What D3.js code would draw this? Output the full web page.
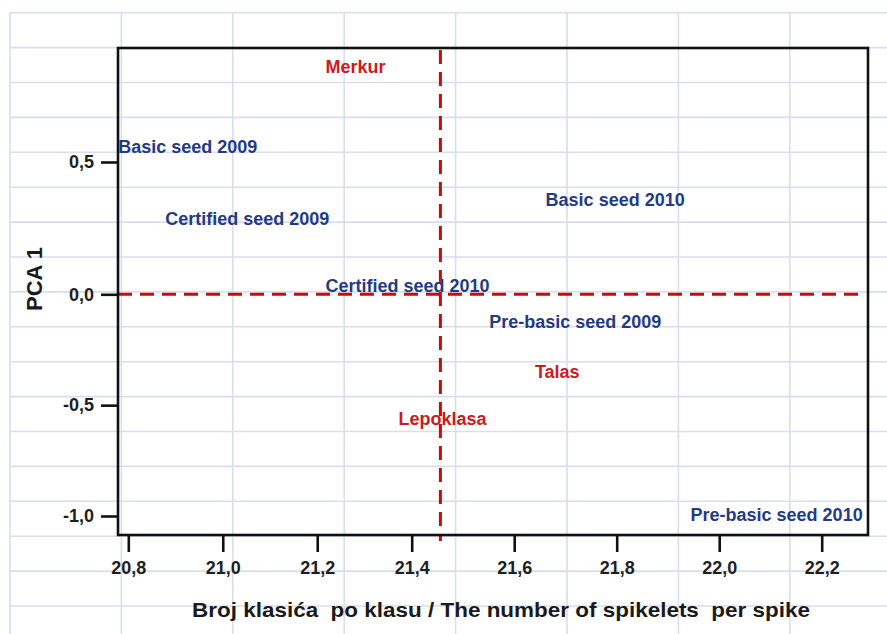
<!DOCTYPE html>
<html>
<head>
<meta charset="utf-8">
<script src="https://cdn.jsdelivr.net/npm/d3@7"></script>
<style>
  html, body { margin: 0; padding: 0; background: #fff; }
  svg { display: block; font-family: "Liberation Sans", Arial, sans-serif; }
</style>
</head>
<body>
<svg id="chart" width="887" height="634"></svg>
<script>
// ---- data ----
const labels = ["Merkur", "Basic seed 2009", "Certified seed 2009", "Basic seed 2010",
  "Certified seed 2010", "Pre-basic seed 2009", "Talas", "Lepoklasa", "Pre-basic seed 2010"];
const spikelets = [21.281, 20.926, 21.052, 21.797, 21.391, 21.719, 21.684, 21.460, 22.112];
const pca1 = [0.859, 0.557, 0.285, 0.360, 0.035, -0.125, -0.350, -0.562, -0.995];
const groups = ["variety", "seed", "seed", "seed", "seed", "seed", "variety", "variety", "seed"];
const xTicks = [20.8, 21.0, 21.2, 21.4, 21.6, 21.8, 22.0, 22.2];
const yTicks = [0.5, 0.0, -0.5, -1.0];
const refX = 21.456;
const refY = 0;
const xTitle = "Broj klasića  po klasu / The number of spikelets  per spike";
const yTitle = "PCA 1";

// ---- layout ----
const W = 887, H = 634;
const frame = { left: 118, right: 868, top: 48, bottom: 535 };
const svg = d3.select("#chart");

// spreadsheet background grid
const gridColor = "#d8deee";
const gx0 = 10, gy0 = 12.7, gdx = 111.4, gdy = 34.9;
const bg = svg.append("g");
bg.selectAll("line.v").data(d3.range(0, 8)).join("line")
  .attr("x1", i => gx0 + i * gdx).attr("x2", i => gx0 + i * gdx)
  .attr("y1", gy0).attr("y2", H)
  .attr("stroke", gridColor).attr("stroke-width", 1.6);
bg.selectAll("line.h").data(d3.range(0, 18)).join("line")
  .attr("x1", gx0).attr("x2", W)
  .attr("y1", i => gy0 + i * gdy).attr("y2", i => gy0 + i * gdy)
  .attr("stroke", gridColor).attr("stroke-width", 1.6);

// scales (piecewise to follow the reference axis)
const x = d3.scaleLinear().domain([20.8, 21.4, 22.2]).range([128.3, 411.7, 821.7]);
const y = d3.scaleLinear().domain([-1, 0, 0.5]).range([516, 294.3, 162]);

// reference dashed lines
const red = "#cc0a0a";
svg.append("line")
  .attr("x1", frame.left).attr("x2", frame.right - 2)
  .attr("y1", y(refY)).attr("y2", y(refY))
  .attr("stroke", red).attr("stroke-width", 3).attr("stroke-dasharray", "14,8");
svg.append("line")
  .attr("x1", x(refX)).attr("x2", x(refX))
  .attr("y1", frame.top + 2).attr("y2", frame.bottom + 6)
  .attr("stroke", red).attr("stroke-width", 3).attr("stroke-dasharray", "14,8");

// frame
svg.append("rect")
  .attr("x", frame.left).attr("y", frame.top)
  .attr("width", frame.right - frame.left).attr("height", frame.bottom - frame.top)
  .attr("fill", "none").attr("stroke", "#111").attr("stroke-width", 2.6);

// axes
const xAxis = d3.axisBottom(x).tickValues(xTicks).tickSize(17).tickPadding(9)
  .tickFormat(d => d3.format(".1f")(d).replace(".", ","));
const gxA = svg.append("g").attr("transform", `translate(0,${frame.bottom})`).call(xAxis);
gxA.select(".domain").remove();
gxA.selectAll(".tick line").attr("stroke", "#111").attr("stroke-width", 2.6);
gxA.selectAll(".tick text").attr("fill", "#1e1e1e").attr("font-size", 18).attr("font-weight", "bold")
  .attr("font-family", "Liberation Sans, Arial, sans-serif");

const yAxis = d3.axisLeft(y).tickValues(yTicks).tickSize(17).tickPadding(7)
  .tickFormat(d => d3.format(".1f")(d).replace(".", ",").replace("−", "-"));
const gyA = svg.append("g").attr("transform", `translate(${frame.left},0)`).call(yAxis);
gyA.select(".domain").remove();
gyA.selectAll(".tick line").attr("stroke", "#111").attr("stroke-width", 2.6);
gyA.selectAll(".tick text").attr("fill", "#1e1e1e").attr("font-size", 18).attr("font-weight", "bold")
  .attr("font-family", "Liberation Sans, Arial, sans-serif");

// axis titles
svg.append("text")
  .attr("x", 501).attr("y", 617)
  .attr("text-anchor", "middle").attr("font-size", 21).attr("font-weight", "bold")
  .attr("fill", "#1a1a1a").attr("xml:space", "preserve").style("white-space", "pre")
  .attr("textLength", 618).attr("lengthAdjust", "spacingAndGlyphs")
  .text(xTitle);
svg.append("text")
  .attr("transform", "translate(42,279) rotate(-90)")
  .attr("text-anchor", "middle").attr("font-size", 22).attr("font-weight", "bold")
  .attr("fill", "#1a1a1a")
  .text(yTitle);

// point labels
const pts = labels.map((l, i) => ({ label: l, x: spikelets[i], y: pca1[i], g: groups[i] }));
svg.append("g").selectAll("text").data(pts).join("text")
  .attr("x", d => x(d.x)).attr("y", d => y(d.y)).attr("dy", "0.36em")
  .attr("text-anchor", "middle").attr("font-size", 18).attr("font-weight", "bold")
  .attr("fill", d => d.g === "seed" ? "#1f3b86" : "#cc1a22")
  .text(d => d.label);
</script>
</body>
</html>
